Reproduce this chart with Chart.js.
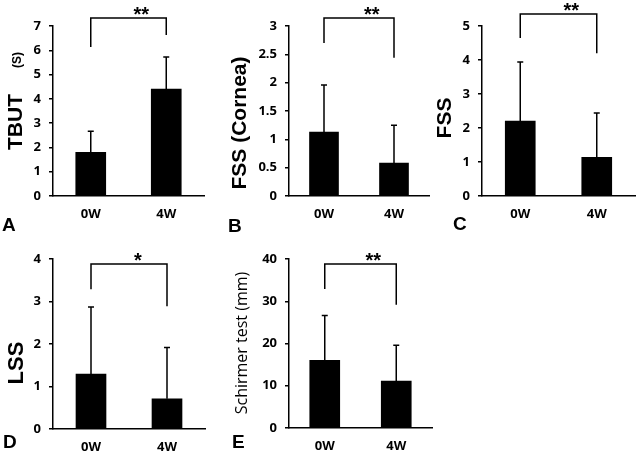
<!DOCTYPE html>
<html>
<head>
<meta charset="utf-8">
<script src="https://cdn.jsdelivr.net/npm/chart.js@4.4.0/dist/chart.umd.min.js"></script>
<style>
  body { margin: 0; background: #fff; }
  #wrap { position: relative; width: 637px; height: 460px; }
  #wrap canvas { position: absolute; left: 0; top: 0; }
</style>
</head>
<body>
<div id="wrap">
  <canvas id="chartA" width="637" height="460"></canvas>
  <canvas id="chartB" width="637" height="460"></canvas>
  <canvas id="chartC" width="637" height="460"></canvas>
  <canvas id="chartD" width="637" height="460"></canvas>
  <canvas id="chartE" width="637" height="460"></canvas>
</div>
<script>
// data (mean and upper SD)
const categories = ['0W', '4W'];

const tbutMean = [1.8, 4.4];
const tbutSd = [0.87, 1.32];
const tbutTicks = [0, 1, 2, 3, 4, 5, 6, 7];
const tbutBracket = [7.33, 6.14, 6.63];

const fssCorneaMean = [1.13, 0.58];
const fssCorneaSd = [0.83, 0.67];
const fssCorneaTicks = [0, 0.5, 1, 1.5, 2, 2.5, 3];
const fssCorneaBracket = [3.14, 2.7, 2.44];

const fssMean = [2.2, 1.14];
const fssSd = [1.74, 1.3];
const fssTicks = [0, 1, 2, 3, 4, 5];
const fssBracket = [5.35, 4.65, 4.2];

const lssMean = [1.29, 0.71];
const lssSd = [1.58, 1.21];
const lssTicks = [0, 1, 2, 3, 4];
const lssBracket = [3.88, 3.29, 2.89];

const schirmerMean = [16.0, 11.1];
const schirmerSd = [10.6, 8.5];
const schirmerTicks = [0, 10, 20, 30, 40];
const schirmerBracket = [38.8, 32.9, 29.2];

const sigMarks = ['**', '**', '**', '*', '**'];

const W = 637, H = 460, YW = 40, XH = 30;
const boldSans = '"Liberation Sans", Arial, sans-serif';

// decorations: error bars, significance bracket, axis title, panel letter
const panelDecor = {
  id: 'panelDecor',
  afterDatasetsDraw(chart, args, opts) {
    const ctx = chart.ctx;
    const x = chart.scales.x, y = chart.scales.y;
    const ds = chart.data.datasets[0];
    const meta = chart.getDatasetMeta(0);
    ctx.save();
    ctx.strokeStyle = '#000';
    ctx.lineWidth = 1.5;
    meta.data.forEach((bar, i) => {
      const top = y.getPixelForValue(ds.data[i] + opts.sd[i]);
      ctx.beginPath();
      ctx.moveTo(bar.x, bar.y);
      ctx.lineTo(bar.x, top);
      ctx.moveTo(bar.x - 3, top);
      ctx.lineTo(bar.x + 3, top);
      ctx.stroke();
    });
    const x0 = x.getPixelForValue(0), x1 = x.getPixelForValue(1);
    const yh = y.getPixelForValue(opts.bracket[0]);
    ctx.beginPath();
    ctx.moveTo(x0, y.getPixelForValue(opts.bracket[1]));
    ctx.lineTo(x0, yh);
    ctx.lineTo(x1, yh);
    ctx.lineTo(x1, y.getPixelForValue(opts.bracket[2]));
    ctx.stroke();
    ctx.fillStyle = '#000';
    ctx.font = 'bold 20px ' + boldSans;
    ctx.textAlign = 'left';
    ctx.textBaseline = 'alphabetic';
    ctx.fillText(opts.sig, (x0 + x1) / 2 + 5, yh + 3);
    ctx.restore();
  },
  afterDraw(chart, args, opts) {
    const ctx = chart.ctx;
    ctx.save();
    ctx.fillStyle = '#000';
    opts.titles.forEach(t => {
      ctx.save();
      ctx.translate(t.x, t.y);
      ctx.rotate(-Math.PI / 2);
      ctx.font = t.font;
      ctx.textAlign = 'center';
      ctx.textBaseline = 'middle';
      ctx.fillText(t.text, 0, 0);
      ctx.restore();
    });
    ctx.font = 'bold 19px ' + boldSans;
    ctx.textAlign = 'left';
    ctx.textBaseline = 'alphabetic';
    ctx.fillText(opts.letter.text, opts.letter.x, opts.letter.y);
    ctx.restore();
  }
};

function makePanel(canvasId, p) {
  new Chart(document.getElementById(canvasId), {
    type: 'bar',
    data: {
      labels: categories,
      datasets: [{
        data: p.mean,
        backgroundColor: '#000',
        borderWidth: 0,
        barThickness: p.barW
      }]
    },
    options: {
      responsive: false,
      animation: false,
      events: [],
      layout: {
        padding: { left: p.area.l - YW, right: W - p.area.r, top: p.area.t, bottom: H - p.area.b - XH }
      },
      plugins: {
        legend: { display: false },
        tooltip: { enabled: false },
        panelDecor: { sd: p.sd, bracket: p.bracket, sig: p.sig, titles: p.titles, letter: p.letter }
      },
      scales: {
        x: {
          grid: { display: false, drawTicks: false },
          border: { display: true, color: '#000', width: 1.5 },
          ticks: { color: '#000', padding: 10, font: { family: 'Open Sans', weight: 'bold', size: 13 } },
          afterFit: s => { s.height = XH; }
        },
        y: {
          min: p.ticks[0],
          max: p.ticks[p.ticks.length - 1],
          afterBuildTicks: s => { s.ticks = p.ticks.map(v => ({ value: v })); },
          grid: { drawOnChartArea: false, drawTicks: true, tickLength: 4, color: '#000', lineWidth: 1.5 },
          border: { display: true, color: '#000', width: 1.5 },
          ticks: {
            color: '#000', padding: 8,
            font: { family: 'Open Sans', weight: 'bold', size: 13 },
            callback: v => String(v)
          },
          afterFit: s => { s.width = YW; }
        }
      }
    },
    plugins: [panelDecor]
  });
}

makePanel('chartA', {
  mean: tbutMean, sd: tbutSd, ticks: tbutTicks, bracket: tbutBracket, sig: sigMarks[0], barW: 30,
  area: { l: 53, r: 204, t: 26, b: 196 },
  titles: [
    { text: 'TBUT', x: 16, y: 122, font: 'bold 21px ' + boldSans },
    { text: '(S)', x: 18, y: 60, font: 'bold 12px ' + boldSans }
  ],
  letter: { text: 'A', x: 2, y: 231 }
});

makePanel('chartB', {
  mean: fssCorneaMean, sd: fssCorneaSd, ticks: fssCorneaTicks, bracket: fssCorneaBracket, sig: sigMarks[1], barW: 29,
  area: { l: 289, r: 429, t: 26, b: 196 },
  titles: [{ text: 'FSS (Cornea)', x: 240, y: 123, font: 'bold 21px ' + boldSans }],
  letter: { text: 'B', x: 228, y: 232 }
});

makePanel('chartC', {
  mean: fssMean, sd: fssSd, ticks: fssTicks, bracket: fssBracket, sig: sigMarks[2], barW: 30,
  area: { l: 482, r: 635, t: 26, b: 196 },
  titles: [{ text: 'FSS', x: 445, y: 118, font: 'bold 21px ' + boldSans }],
  letter: { text: 'C', x: 453, y: 230 }
});

makePanel('chartD', {
  mean: lssMean, sd: lssSd, ticks: lssTicks, bracket: lssBracket, sig: sigMarks[3], barW: 30,
  area: { l: 53, r: 205, t: 259, b: 429 },
  titles: [{ text: 'LSS', x: 17, y: 363, font: 'bold 22px ' + boldSans }],
  letter: { text: 'D', x: 3, y: 448 }
});

makePanel('chartE', {
  mean: schirmerMean, sd: schirmerSd, ticks: schirmerTicks, bracket: schirmerBracket, sig: sigMarks[4], barW: 30,
  area: { l: 289, r: 432, t: 259, b: 428 },
  titles: [{ text: 'Schirmer test (mm)', x: 242, y: 343, font: '16px "Open Sans", sans-serif' }],
  letter: { text: 'E', x: 232, y: 448 }
});
</script>
</body>
</html>
